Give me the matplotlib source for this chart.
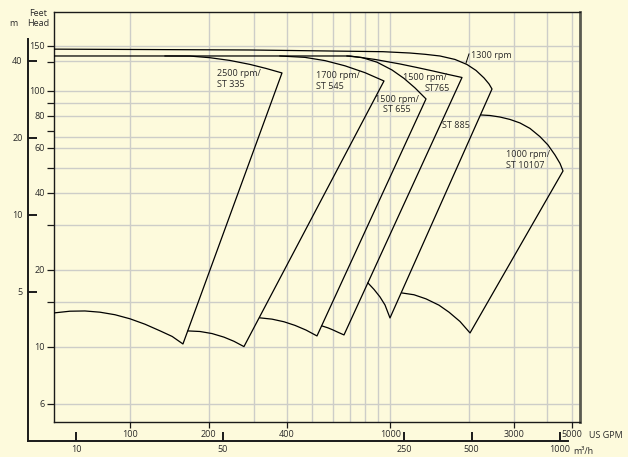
import matplotlib
matplotlib.use('Agg')
import matplotlib.pyplot as plt
from matplotlib.ticker import NullLocator, NullFormatter
import numpy as np

plt.rcParams['font.family'] = ['Open Sans', 'DejaVu Sans']

# ---------------- data ----------------
gpm_ticks = [100, 200, 400, 1000, 3000, 5000]
ft_ticks = [6, 10, 20, 40, 60, 80, 100, 150]
ft_minor = [15, 30, 50, 70, 90, 130]
m_ticks = [5, 10, 20, 40]
m3h_labels = ['10', '50', '250', '500', '1000']
m3h_at_gpm = [62, 227, 1128, 2054, 4492]     # where the chart places the m3/h ticks on the GPM scale
grid_gpm = [100, 200, 300, 400, 500, 600, 700, 800, 900, 1000, 2000, 3000, 4000, 5000]
grid_ft = [6, 10, 15, 20, 30, 40, 50, 60, 66, 80, 90, 100, 131, 150]
FT_PER_M = 3.281

# pump envelopes: top curve (max speed) and bottom curve (min speed), in GPM / feet
p335_top_gpm = [135.8, 169.4, 202.2, 241.5, 288.3, 332.2, 382.8]
p335_top_ft = [137.0, 136.9, 134.9, 131.6, 127.0, 122.5, 117.6]
p335_bot_gpm = [50.8, 58.5, 66.8, 76.3, 87.2, 99.6, 113.7, 129.9, 144.7, 159.2]
p335_bot_ft = [13.58, 13.79, 13.82, 13.67, 13.36, 12.88, 12.27, 11.56, 10.99, 10.27]

p545_top_gpm = [376.0, 469.3, 560.3, 668.9, 798.5, 944.9]
p545_top_ft = [137.0, 135.3, 131.4, 125.4, 117.9, 109.4]
p545_bot_gpm = [166.4, 185.1, 205.9, 229.0, 250.2, 273.3]
p545_bot_ft = [11.55, 11.49, 11.28, 10.92, 10.52, 10.03]

p655_top_gpm = [680.8, 777.5, 887.8, 1014.4, 1128, 1243.6, 1371]
p655_top_ft = [137.0, 135.1, 129.6, 120.8, 112.0, 102.8, 93.1]
p655_bot_gpm = [314.9, 350.4, 389.7, 429.5, 473.5, 521.9]
p655_bot_ft = [12.99, 12.84, 12.54, 12.14, 11.64, 11.04]

p765_top_gpm = [50.8, 699.2, 872.6, 1088.8, 1266, 1458.6, 1651, 1886]
p765_top_ft = [137.0, 137.0, 132.8, 127.5, 123.5, 119.7, 116.3, 112.9]
p765_bot_gpm = [545.5, 575.4, 601.5, 628.7, 663.0]
p765_bot_ft = [12.08, 11.87, 11.65, 11.41, 11.14]

p885_top_gpm = [50.8, 288.3, 936.7, 1189.7, 1358.8, 1551.4, 1772.6, 1971, 2135, 2292.6, 2396.4, 2460]
p885_top_ft = [145.7, 144.6, 142.4, 140.7, 139.1, 137.0, 132.8, 126.9, 120.3, 112.4, 106.5, 101.8]
p885_bot_gpm = [819.9, 864.8, 912.0, 953.3, 996.5]
p885_bot_ft = [17.78, 16.78, 15.68, 14.59, 12.98]

p10107_top_gpm = [2226, 2417, 2641, 2886, 3152, 3444, 3763, 4040, 4299, 4494, 4615]
p10107_top_ft = [80.6, 80.2, 79.1, 77.4, 75.0, 71.4, 66.3, 61.5, 56.2, 52.1, 48.7]
p10107_bot_gpm = [1108, 1232.6, 1371, 1538, 1681, 1853, 2025]
p10107_bot_ft = [16.25, 15.99, 15.41, 14.56, 13.67, 12.57, 11.34]

pumps = [
    (p335_top_gpm, p335_top_ft, p335_bot_gpm, p335_bot_ft),
    (p545_top_gpm, p545_top_ft, p545_bot_gpm, p545_bot_ft),
    (p655_top_gpm, p655_top_ft, p655_bot_gpm, p655_bot_ft),
    (p765_top_gpm, p765_top_ft, p765_bot_gpm, p765_bot_ft),
    (p885_top_gpm, p885_top_ft, p885_bot_gpm, p885_bot_ft),
    (p10107_top_gpm, p10107_top_ft, p10107_bot_gpm, p10107_bot_ft),
]

labels = [
    ("2500 rpm/\nST 335", 215, 111.4, 'left'),
    ("1700 rpm/\nST 545", 517, 109.4, 'left'),
    ("1500 rpm/\nST 655", 1060, 88.6, 'center'),
    ("1500 rpm/", 1118, 112.4, 'left'),
    ("ST765", 1359, 101.8, 'left'),
    ("ST 885", 1579, 73.0, 'left'),
    ("1000 rpm/\nST 10107", 2785, 53.8, 'left'),
    ("1300 rpm", 2042, 137.0, 'left'),
]
leader_from = (2006, 139.5)
leader_to = (1954, 128.6)

# ---------------- style ----------------
BG = '#fdfadc'
GRID = '#cdcdc8'
TXT = '#2a2a2a'
FS = 6.5

W, H = 628, 457
def fx(px): return px / W
def fy(py): return 1 - py / H
def logi(lo, hi, f):
    return 10 ** (np.log10(lo) + f * (np.log10(hi) - np.log10(lo)))

X0, X1 = 50.8, 5364
Y0, Y1 = 5.09, 203.5
AX_L, AX_R, AX_T, AX_B = 54, 580, 12, 422
O_L, O_R, O_T, O_B = 28, 568, 39, 441

fig = plt.figure(figsize=(6.28, 4.57), dpi=100, facecolor=BG)

# outer (metric) axes
ax2 = fig.add_axes([fx(O_L), fy(O_B), fx(O_R) - fx(O_L), fy(O_T) - fy(O_B)])
ax2.set_xscale('log'); ax2.set_yscale('log')
ax2.set_xlim(logi(X0, X1, (O_L - AX_L) / (AX_R - AX_L)), logi(X0, X1, (O_R - AX_L) / (AX_R - AX_L)))
ax2.set_ylim(logi(Y0, Y1, (AX_B - O_B) / (AX_B - AX_T)), logi(Y0, Y1, (AX_B - O_T) / (AX_B - AX_T)))
ax2.patch.set_visible(False)
for s in ['top', 'right']:
    ax2.spines[s].set_visible(False)
for s in ['left', 'bottom']:
    ax2.spines[s].set_linewidth(1.4)
    ax2.spines[s].set_color('#1a1a1a')
ax2.xaxis.set_minor_locator(NullLocator()); ax2.yaxis.set_minor_locator(NullLocator())
ax2.set_xticks(m3h_at_gpm, labels=m3h_labels)
ax2.set_yticks([m * FT_PER_M for m in m_ticks], labels=[str(m) for m in m_ticks])
ax2.tick_params(axis='both', direction='in', length=6.5, width=1.4, labelsize=FS, labelcolor=TXT, color='#1a1a1a')
ax2.tick_params(axis='x', pad=3)
ax2.tick_params(axis='y', pad=4)

# main (US) axes
ax = fig.add_axes([fx(AX_L), fy(AX_B), fx(AX_R) - fx(AX_L), fy(AX_T) - fy(AX_B)])
ax.set_facecolor(BG)
ax.set_xscale('log'); ax.set_yscale('log')
ax.set_xlim(X0, X1); ax.set_ylim(Y0, Y1)

for v in grid_gpm:
    ax.axvline(v, color=GRID, lw=1.0, zorder=0)
for v in grid_ft:
    ax.axhline(v, color=GRID, lw=1.0, zorder=0)

for tg, tf, bg, bf in pumps:
    xs = list(tg) + list(bg)[::-1]
    ys = list(tf) + list(bf)[::-1]
    ax.plot(xs, ys, color='black', lw=0.9, zorder=3, solid_joinstyle='round')

for txt, x, y, ha in labels:
    ax.text(x, y, txt, ha=ha, va='center', fontsize=FS, color=TXT, multialignment=ha,
            linespacing=1.25, zorder=4)
ax.plot([leader_from[0], leader_to[0]], [leader_from[1], leader_to[1]], color='black', lw=0.7, zorder=4)

ax.xaxis.set_minor_locator(NullLocator())
ax.set_xticks(gpm_ticks, labels=[str(v) for v in gpm_ticks])
ax.yaxis.set_minor_locator(NullLocator())
ax.set_yticks(ft_ticks, labels=[str(v) for v in ft_ticks])
ax.set_yticks(ft_minor, minor=True)
ax.yaxis.set_minor_formatter(NullFormatter())
ax.tick_params(axis='both', which='both', direction='out', width=0.9, color='#1a1a1a',
               labelsize=FS, labelcolor=TXT)
ax.tick_params(axis='y', which='both', length=5, pad=1.5)
ax.tick_params(axis='x', length=4.5, pad=1.5)

for s in ['left', 'bottom', 'top']:
    ax.spines[s].set_linewidth(1.0)
    ax.spines[s].set_color('#1a1a1a')
ax.spines['right'].set_linewidth(2.0)
ax.spines['right'].set_color('#5a5a50')

# axis titles
fig.text(fx(13), fy(24), 'm', ha='center', va='center', fontsize=FS, color=TXT)
fig.text(fx(38), fy(13), 'Feet', ha='center', va='center', fontsize=FS, color=TXT)
fig.text(fx(38), fy(24), 'Head', ha='center', va='center', fontsize=FS, color=TXT)
fig.text(fx(589), fy(435), 'US GPM', ha='left', va='center', fontsize=FS, color=TXT)
fig.text(fx(573), fy(452), 'm\u00b3/h', ha='left', va='center', fontsize=FS, color=TXT)

fig.savefig('out.png', dpi=100, facecolor=BG)
